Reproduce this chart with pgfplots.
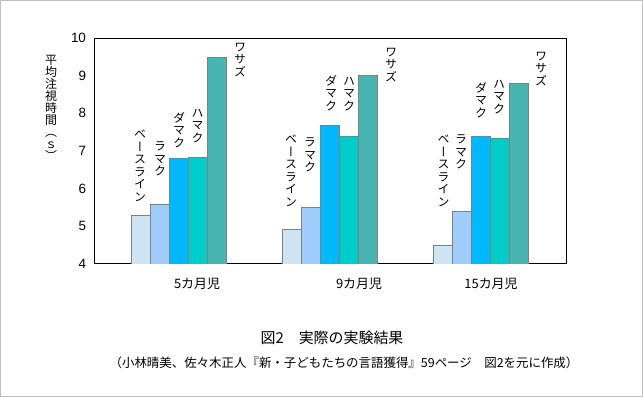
\documentclass[border=0pt]{standalone}
\usepackage{pgfplots}
\pgfplotsset{compat=1.18}
\usepackage{fontspec}
\setmainfont{Liberation Sans}
\newfontfamily\jp{Noto Sans CJK JP}
\newfontfamily\jpv[RawFeature=+vert]{Noto Sans CJK JP}
\definecolor{cBase}{RGB}{207,228,242}
\definecolor{cRama}{RGB}{159,204,250}
\definecolor{cDama}{RGB}{0,184,251}
\definecolor{cHama}{RGB}{0,205,202}
\definecolor{cWasa}{RGB}{72,181,179}
\definecolor{edgegray}{RGB}{128,128,128}
\definecolor{framegray}{RGB}{192,192,192}
\newcommand{\vlab}[3]{\node[anchor=north, inner sep=0pt, align=center, font=\jpv\fontsize{12}{12.5}\selectfont] at ({#1*1bp},{(397-#2)*1bp}) {#3};}
\begin{document}
\begin{tikzpicture}
\useasboundingbox (0,0) rectangle (643bp,397bp);
\draw[framegray, line width=1bp] (0.5bp,0.5bp) rectangle (642.5bp,396.5bp);
\begin{axis}[
  at={(94bp,133bp)}, anchor=south west,
  scale only axis, width=472bp, height=226bp,
  xmin=-0.566, xmax=2.563, ymin=4, ymax=10,
  ytick={4,5,6,7,8,9,10},
  xtick={0.117,1.191,2.066},
  xticklabels={5カ月児,9カ月児,15カ月児},
  xticklabel style={font=\jp\fontsize{13}{14}\selectfont, yshift=-10bp},
  yticklabel style={font=\fontsize{13.5}{14}\selectfont, xshift=-4.5bp},
  /pgf/number format/assume math mode=true,
  major tick length=0pt,
  axis line style={line width=1bp},
  ybar=0pt, bar width=19bp,
]
\addplot[fill=cBase, draw=edgegray, line width=0.9bp] coordinates {(0,5.30) (1,4.92) (2,4.50)};
\addplot[fill=cRama, draw=edgegray, line width=0.9bp] coordinates {(0,5.59) (1,5.50) (2,5.40)};
\addplot[fill=cDama, draw=edgegray, line width=0.9bp] coordinates {(0,6.79) (1,7.68) (2,7.39)};
\addplot[fill=cHama, draw=edgegray, line width=0.9bp] coordinates {(0,6.84) (1,7.39) (2,7.32)};
\addplot[fill=cWasa, draw=edgegray, line width=0.9bp] coordinates {(0,9.49) (1,9.01) (2,8.80)};
\end{axis}
% bar labels (vertical Japanese)
\vlab{140}{130}{ベ\\ー\\ス\\ラ\\イ\\ン}
\vlab{160}{142}{ラ\\マ\\ク}
\vlab{179}{112}{ダ\\マ\\ク}
\vlab{197.5}{109}{ハ\\マ\\ク}
\vlab{240}{43}{ワ\\サ\\ズ}
\vlab{291}{135}{ベ\\ー\\ス\\ラ\\イ\\ン}
\vlab{310}{138}{ラ\\マ\\ク}
\vlab{331}{75}{ダ\\マ\\ク}
\vlab{349}{77}{ハ\\マ\\ク}
\vlab{391}{48}{ワ\\サ\\ズ}
\vlab{443.5}{135}{ベ\\ー\\ス\\ラ\\イ\\ン}
\vlab{461}{135}{ラ\\マ\\ク}
\vlab{481}{82}{ダ\\マ\\ク}
\vlab{499}{80}{ハ\\マ\\ク}
\vlab{541}{52}{ワ\\サ\\ズ}
% y axis title
\node[anchor=north, inner sep=0pt, align=center, font=\jpv\fontsize{12}{12}\selectfont] at (51bp,342bp) {平\\均\\注\\視\\時\\間\\（\\ｓ\\）};
% titles
\node[font=\jp\fontsize{15}{16}\selectfont, inner sep=0pt] at (332bp,59bp) {図2\quad 実際の実験結果};
\node[font=\jp\fontsize{12.5}{13}\selectfont, inner sep=0pt] at (344bp,34bp) {（小林晴美、佐々木正人『新・子どもたちの言語獲得』59ページ\quad 図2を元に作成）};
\end{tikzpicture}
\end{document}
